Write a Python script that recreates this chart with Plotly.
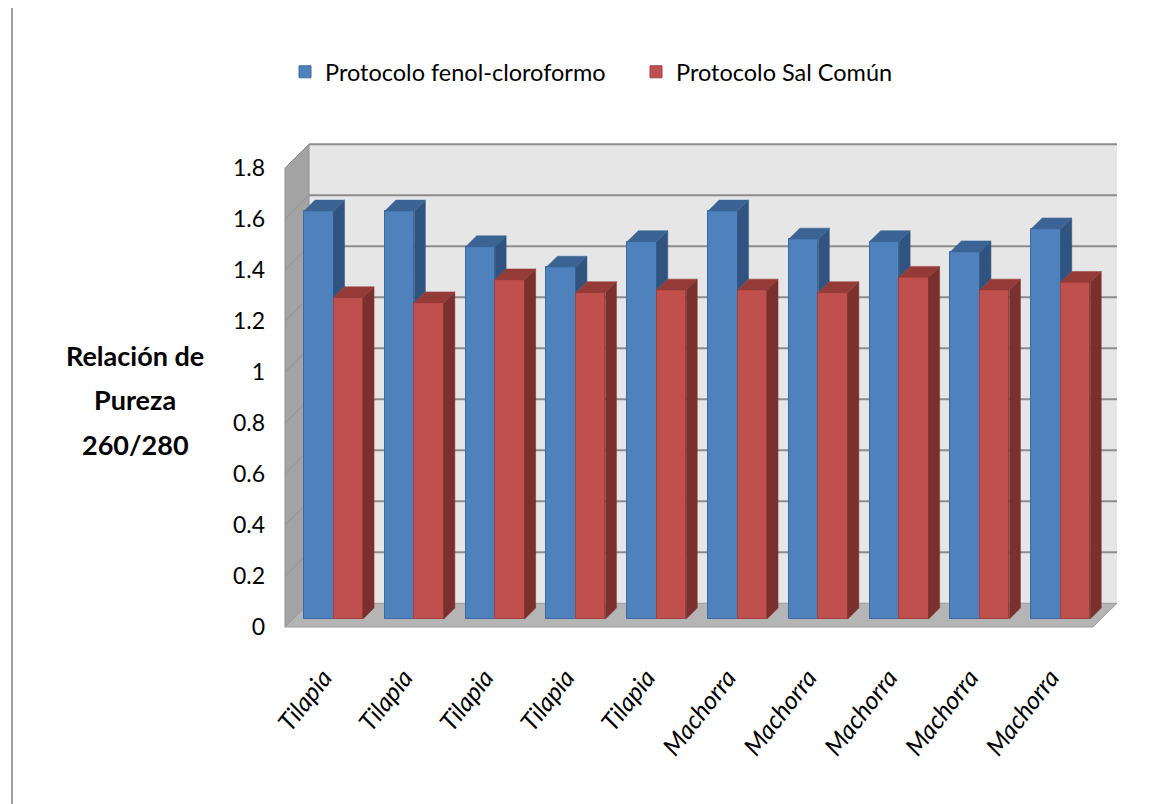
import plotly.graph_objects as go

# ---------------- data ----------------
categories = ["Tilapia", "Tilapia", "Tilapia", "Tilapia", "Tilapia",
              "Machorra", "Machorra", "Machorra", "Machorra", "Machorra"]
fenol_cloroformo = [1.60, 1.60, 1.46, 1.38, 1.48, 1.60, 1.49, 1.48, 1.44, 1.53]
sal_comun = [1.26, 1.24, 1.33, 1.28, 1.29, 1.29, 1.28, 1.34, 1.29, 1.32]
series_names = ["Protocolo fenol-cloroformo", "Protocolo Sal Común"]
y_tick_values = [0, 0.2, 0.4, 0.6, 0.8, 1.0, 1.2, 1.4, 1.6, 1.8]
y_tick_labels = ["0", "0.2", "0.4", "0.6", "0.8", "1", "1.2", "1.4", "1.6", "1.8"]
y_title_lines = ["Relación de", "Pureza", "260/280"]

# ---------------- geometry / style ----------------
W, H = 1154, 804
X0_PX, PX_PER_CAT = 285, 80.8      # front plane: left edge pixel, px per category
Y0_PX, PX_PER_UNIT = 627, 255      # front plane: zero pixel, px per value unit
DX = 24 / PX_PER_CAT               # full depth offset (category units)
DY = 23.7 / PX_PER_UNIT            # full depth offset (value units)
F0, FD = 0.338, 0.46               # bar front depth fraction, bar depth fraction
BAR_W = 0.365
YMAX = y_tick_values[-1]
FONT = "Lato, 'Open Sans', sans-serif"

front_col = ["#4F81BD", "#C0504D"]
edge_col = ["#3D6A9E", "#A0413E"]
top_col = ["#3B6494", "#943B38"]
side_col = ["#30547F", "#7A302D"]

n = len(categories)
series = [fenol_cloroformo, sal_comun]
x_range = [-0.5 - X0_PX / PX_PER_CAT, -0.5 + (W - X0_PX) / PX_PER_CAT]
y_range = [(Y0_PX - H) / PX_PER_UNIT, Y0_PX / PX_PER_UNIT]
base = F0 * DY
centers = [i + F0 * DX for i in range(n)]
ox, oy = FD * DX, FD * DY

fig = go.Figure()

# front faces (bars)
for s, vals in enumerate(series):
    xs = [c + (s - 0.5) * BAR_W for c in centers]
    fig.add_trace(go.Bar(
        x=xs, y=vals, base=base, width=BAR_W, name=series_names[s],
        marker=dict(color=front_col[s], line=dict(color=edge_col[s], width=1)),
        hoverinfo="skip",
    ))

# side and top faces
for s, vals in enumerate(series):
    sx, sy, tx, ty = [], [], [], []
    for i, c in enumerate(centers):
        xl = c + (s - 1) * BAR_W
        xr = xl + BAR_W
        top = base + vals[i]
        # portion of side face hidden by the neighbour series in the group
        low = base
        if s + 1 < len(series):
            low = base + min(series[s + 1][i], vals[i])
        if top > low:
            sx += [xr, xr, xr + ox, xr + ox, xr, None]
            sy += [low, top, top + oy, low + oy, low, None]
        tx += [xl, xl + ox, xr + ox, xr, xl, None]
        ty += [top, top + oy, top + oy, top, top, None]
    fig.add_trace(go.Scatter(x=sx, y=sy, mode="lines", fill="toself",
                             fillcolor=side_col[s], line=dict(color=side_col[s], width=0.5),
                             showlegend=False, hoverinfo="skip"))
    fig.add_trace(go.Scatter(x=tx, y=ty, mode="lines", fill="toself",
                             fillcolor=top_col[s], line=dict(color=top_col[s], width=0.5),
                             showlegend=False, hoverinfo="skip"))

# walls, floor, gridlines
xl_w, xr_w = -0.5, n - 0.5
shapes = []
shapes.append(dict(type="rect", xref="x", yref="y", x0=xl_w + DX, x1=xr_w + DX, y0=DY, y1=YMAX + DY,
                   fillcolor="#E6E6E6", line=dict(width=0), layer="below"))
shapes.append(dict(type="path", xref="x", yref="y",
                   path=f"M {xl_w},0 L {xl_w + DX},{DY} L {xl_w + DX},{YMAX + DY} L {xl_w},{YMAX} Z",
                   fillcolor="#A3A3A3", line=dict(color="#8E8E8E", width=1), layer="below"))
shapes.append(dict(type="path", xref="x", yref="y",
                   path=f"M {xl_w},0 L {xr_w},0 L {xr_w + DX},{DY} L {xl_w + DX},{DY} Z",
                   fillcolor="#B5B5B5", line=dict(color="#9A9A9A", width=1), layer="below"))
for v in y_tick_values[1:]:
    shapes.append(dict(type="line", xref="x", yref="y", x0=xl_w + DX, x1=xr_w + DX, y0=v + DY, y1=v + DY,
                       line=dict(color="#8C8C8C", width=2), layer="below"))
    shapes.append(dict(type="line", xref="x", yref="y", x0=xl_w, x1=xl_w + DX, y0=v, y1=v + DY,
                       line=dict(color="#939393", width=1), layer="below"))
# page border line at left
shapes.append(dict(type="line", xref="paper", yref="paper", x0=12 / W, x1=12 / W, y0=0, y1=1 - 8 / H,
                   line=dict(color="#A0A0A0", width=2), layer="above"))

annotations = []
for k, line in enumerate(y_title_lines):
    annotations.append(dict(text=f"<b>{line}</b>", xref="paper", yref="paper",
                            x=135 / W, y=1 - (355 + 45 * k) / H, showarrow=False,
                            xanchor="center", yanchor="middle",
                            font=dict(family=FONT, size=27, color="#000000")))

fig.update_layout(
    width=W, height=H, margin=dict(l=0, r=0, t=0, b=0),
    paper_bgcolor="white", plot_bgcolor="white",
    barmode="overlay", bargap=0,
    shapes=shapes, annotations=annotations,
    showlegend=True,
    legend=dict(orientation="h", x=285 / W, y=1 - 72 / H, xanchor="left", yanchor="middle",
                font=dict(family=FONT, size=23.5, color="#000000"), entrywidth=306,
                bgcolor="rgba(0,0,0,0)", traceorder="normal"),
    xaxis=dict(range=x_range, domain=[0, 1], anchor="free", position=(H - Y0_PX) / H,
               tickmode="array", tickvals=centers, ticktext=categories, tickangle=-52,
               tickfont=dict(family=FONT, size=25, color="#000000", style="italic"),
               showgrid=False, zeroline=False, showline=False, ticks="",
               ticklabelstandoff=30, ticklabelshift=-10, fixedrange=True),
    yaxis=dict(range=y_range, domain=[0, 1], anchor="free", position=X0_PX / W,
               tickmode="array", tickvals=y_tick_values, ticktext=y_tick_labels,
               tickfont=dict(family=FONT, size=23, color="#000000"),
               showgrid=False, zeroline=False, showline=False, ticks="",
               ticklabelstandoff=20, fixedrange=True),
)

fig.write_html("out.html")
